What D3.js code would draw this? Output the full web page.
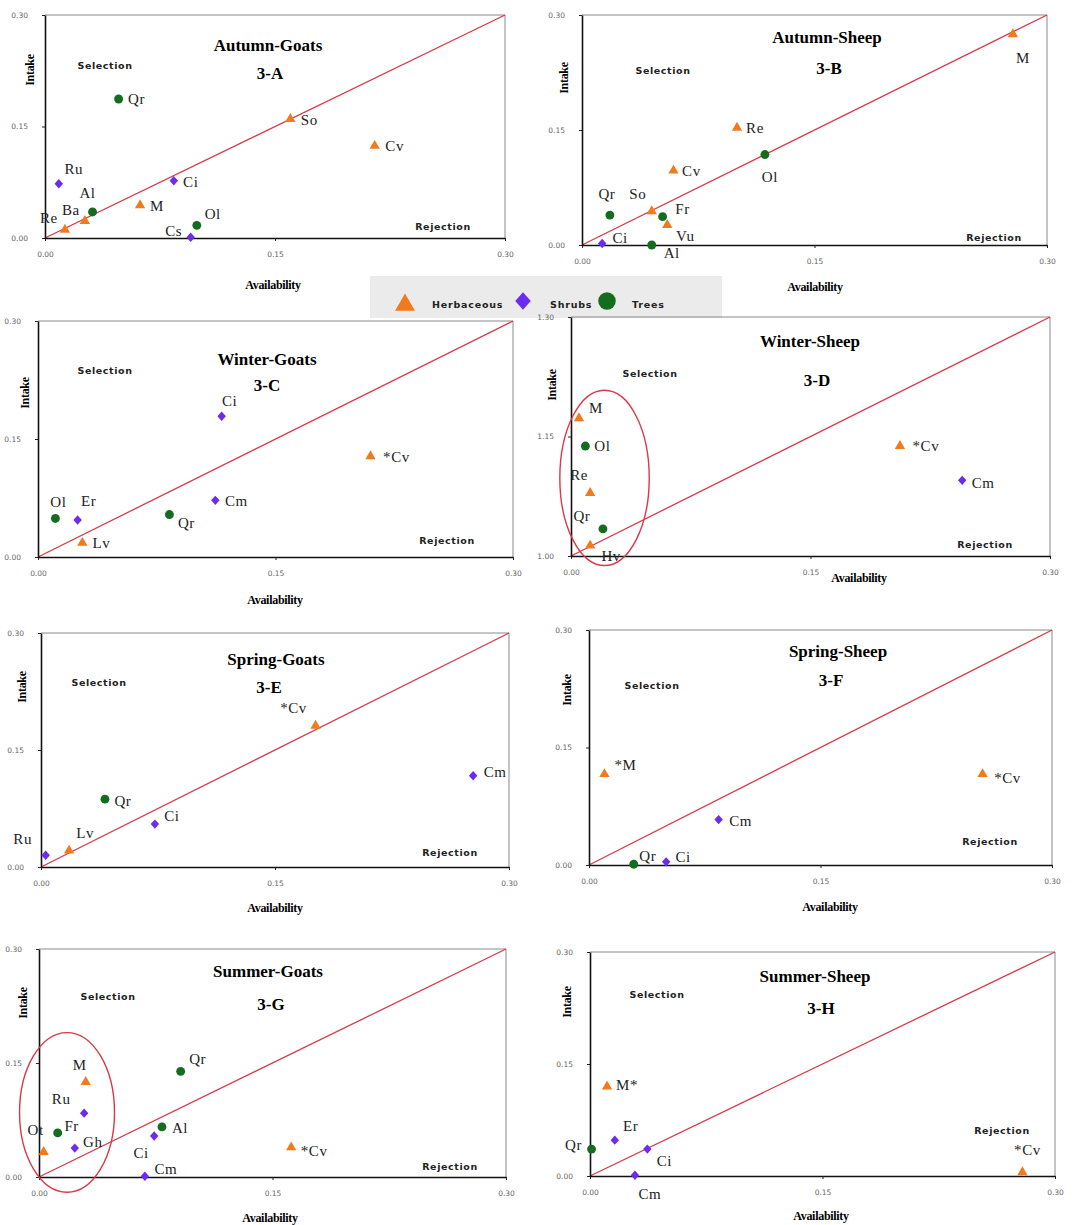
<!DOCTYPE html>
<html>
<head>
<meta charset="utf-8">
<script src="https://cdn.jsdelivr.net/npm/d3@7"></script>
<style>
  html, body { margin: 0; padding: 0; background: #fff; }
  svg { display: block; }
</style>
</head>
<body>
<svg id="fig" width="1083" height="1225"></svg>
<script>
// ---- Plant groups ----
const categories = ["Herbaceous", "Shrubs", "Trees"];

// ---- Panel titles ----
const panelTitles = ["Autumn-Goats", "Autumn-Sheep", "Winter-Goats", "Winter-Sheep",
                     "Spring-Goats", "Spring-Sheep", "Summer-Goats", "Summer-Sheep"];
const panelCodes = ["3-A", "3-B", "3-C", "3-D", "3-E", "3-F", "3-G", "3-H"];

// ---- Axis ticks ----
const tickValues = [0, 0.15, 0.30];
const tickValuesWinterSheep = [1.00, 1.15, 1.30];

// ---- Species: availability (a) vs intake (i) ----
const autumnGoats = [
  { sp: "Qr", g: "Trees", a: 0.048, i: 0.187 },
  { sp: "So", g: "Herbaceous", a: 0.160, i: 0.160 },
  { sp: "Cv", g: "Herbaceous", a: 0.215, i: 0.124 },
  { sp: "Ru", g: "Shrubs", a: 0.009, i: 0.073 },
  { sp: "Ci", g: "Shrubs", a: 0.084, i: 0.077 },
  { sp: "Al", g: "Trees", a: 0.031, i: 0.035 },
  { sp: "M", g: "Herbaceous", a: 0.062, i: 0.044 },
  { sp: "Ba", g: "Herbaceous", a: 0.026, i: 0.023 },
  { sp: "Re", g: "Herbaceous", a: 0.013, i: 0.011 },
  { sp: "Ol", g: "Trees", a: 0.099, i: 0.017 },
  { sp: "Cs", g: "Shrubs", a: 0.095, i: 0.001 }
];
const autumnSheep = [
  { sp: "M", g: "Herbaceous", a: 0.278, i: 0.275 },
  { sp: "Re", g: "Herbaceous", a: 0.100, i: 0.153 },
  { sp: "Ol", g: "Trees", a: 0.118, i: 0.118 },
  { sp: "Cv", g: "Herbaceous", a: 0.059, i: 0.097 },
  { sp: "So", g: "Herbaceous", a: 0.045, i: 0.044 },
  { sp: "Fr", g: "Trees", a: 0.052, i: 0.037 },
  { sp: "Vu", g: "Herbaceous", a: 0.055, i: 0.026 },
  { sp: "Qr", g: "Trees", a: 0.018, i: 0.039 },
  { sp: "Ci", g: "Shrubs", a: 0.013, i: 0.002 },
  { sp: "Al", g: "Trees", a: 0.045, i: 0.000 }
];
const winterGoats = [
  { sp: "Ci", g: "Shrubs", a: 0.116, i: 0.179 },
  { sp: "*Cv", g: "Herbaceous", a: 0.210, i: 0.128 },
  { sp: "Cm", g: "Shrubs", a: 0.112, i: 0.072 },
  { sp: "Qr", g: "Trees", a: 0.083, i: 0.054 },
  { sp: "Ol", g: "Trees", a: 0.011, i: 0.049 },
  { sp: "Er", g: "Shrubs", a: 0.025, i: 0.047 },
  { sp: "Lv", g: "Herbaceous", a: 0.028, i: 0.018 }
];
const winterSheep = [
  { sp: "M", g: "Herbaceous", a: 0.005, i: 1.173 },
  { sp: "Ol", g: "Trees", a: 0.009, i: 1.138 },
  { sp: "Re", g: "Herbaceous", a: 0.012, i: 1.079 },
  { sp: "Qr", g: "Trees", a: 0.020, i: 1.034 },
  { sp: "Hv", g: "Herbaceous", a: 0.012, i: 1.013 },
  { sp: "*Cv", g: "Herbaceous", a: 0.206, i: 1.138 },
  { sp: "Cm", g: "Shrubs", a: 0.245, i: 1.095 }
];
const springGoats = [
  { sp: "*Cv", g: "Herbaceous", a: 0.176, i: 0.181 },
  { sp: "Cm", g: "Shrubs", a: 0.277, i: 0.117 },
  { sp: "Qr", g: "Trees", a: 0.041, i: 0.087 },
  { sp: "Ci", g: "Shrubs", a: 0.073, i: 0.055 },
  { sp: "Lv", g: "Herbaceous", a: 0.018, i: 0.021 },
  { sp: "Ru", g: "Shrubs", a: 0.003, i: 0.015 }
];
const springSheep = [
  { sp: "*M", g: "Herbaceous", a: 0.010, i: 0.116 },
  { sp: "*Cv", g: "Herbaceous", a: 0.255, i: 0.116 },
  { sp: "Cm", g: "Shrubs", a: 0.084, i: 0.058 },
  { sp: "Qr", g: "Trees", a: 0.029, i: 0.001 },
  { sp: "Ci", g: "Shrubs", a: 0.050, i: 0.004 }
];
const summerGoats = [
  { sp: "M", g: "Herbaceous", a: 0.030, i: 0.125 },
  { sp: "Qr", g: "Trees", a: 0.091, i: 0.139 },
  { sp: "Ru", g: "Shrubs", a: 0.029, i: 0.084 },
  { sp: "Al", g: "Trees", a: 0.079, i: 0.066 },
  { sp: "Ci", g: "Shrubs", a: 0.074, i: 0.054 },
  { sp: "Fr", g: "Trees", a: 0.012, i: 0.058 },
  { sp: "Ot", g: "Herbaceous", a: 0.003, i: 0.033 },
  { sp: "Gh", g: "Shrubs", a: 0.023, i: 0.038 },
  { sp: "Cm", g: "Shrubs", a: 0.068, i: 0.001 },
  { sp: "*Cv", g: "Herbaceous", a: 0.162, i: 0.039 }
];
const summerSheep = [
  { sp: "M*", g: "Herbaceous", a: 0.011, i: 0.120 },
  { sp: "Er", g: "Shrubs", a: 0.016, i: 0.048 },
  { sp: "Qr", g: "Trees", a: 0.001, i: 0.036 },
  { sp: "Ci", g: "Shrubs", a: 0.037, i: 0.036 },
  { sp: "Cm", g: "Shrubs", a: 0.029, i: 0.001 },
  { sp: "*Cv", g: "Herbaceous", a: 0.279, i: 0.005 }
];

// Grouped species circled in two panels (centre and radii in data units)
const winterSheepGroup = { a: 0.021, i: 1.098, ra: 0.028, ri: 0.110 };
const summerGoatsGroup = { a: 0.018, i: 0.085, ra: 0.0305, ri: 0.105 };

// ---- Layout of each panel (pixels) ----
const layout = [
  { box: [45, 15, 505, 238], title: [268, 45], code: [270, 73], sel: [105, 66], rej: [443, 227], xt: [273, 285], yt: [30, 70],
    lab: { Qr: [18, 0], So: [19, 1], Cv: [20, 0], Ru: [15, -15], Ci: [17, 1], Al: [-5, -19], M: [17, 0], Ba: [-14, -11], Re: [-16, -12], Ol: [16, -12], Cs: [-17, -7] } },
  { box: [582, 15, 1047, 245], title: [827, 37], code: [829, 68], sel: [663, 71], rej: [994, 238], xt: [815, 287], yt: [564, 78],
    lab: { M: [10, 24], Re: [18, 0], Ol: [5, 22], Cv: [18, 0], So: [-14, -18], Fr: [20, -8], Vu: [18, 11], Qr: [-3, -21], Ci: [18, -6], Al: [20, 8] } },
  { box: [38, 321, 513, 557], title: [267, 359], code: [267, 385], sel: [105, 371], rej: [447, 541], xt: [275, 600], yt: [25, 393],
    lab: { Ci: [8, -15], "*Cv": [26, 0], Cm: [21, 0], Qr: [17, 8], Ol: [3, -17], Er: [11, -19], Lv: [19, 0] } },
  { box: [571, 317, 1050, 556], title: [810, 341], code: [817, 380], sel: [650, 374], rej: [985, 545], xt: [859, 578], yt: [552, 385],
    lab: { M: [17, -10], Ol: [17, 0], Re: [-11, -18], Qr: [-21, -13], Hv: [21, 10], "*Cv": [26, 0], Cm: [21, 2] } },
  { box: [41, 633, 509, 867], title: [276, 659], code: [269, 687], sel: [99, 683], rej: [450, 853], xt: [275, 908], yt: [22, 687],
    lab: { "*Cv": [-22, -18], Cm: [22, -4], Qr: [18, 2], Ci: [17, -8], Lv: [16, -18], Ru: [-23, -17] } },
  { box: [589, 630, 1052, 865], title: [838, 651], code: [831, 680], sel: [652, 686], rej: [990, 842], xt: [830, 907], yt: [567, 690],
    lab: { "*M": [21, -9], "*Cv": [25, 4], Cm: [22, 1], Qr: [14, -8], Ci: [17, -5] } },
  { box: [39, 949, 506, 1177], title: [268, 971], code: [271, 1004], sel: [108, 997], rej: [450, 1167], xt: [270, 1218], yt: [23, 1003],
    lab: { M: [-6, -17], Qr: [17, -13], Ru: [-23, -14], Al: [18, 1], Ci: [-13, 17], Fr: [14, -7], Ot: [-8, -22], Gh: [18, -6], Cm: [21, -7], "*Cv": [23, 3] } },
  { box: [590, 952, 1055, 1176], title: [815, 976], code: [821, 1008], sel: [657, 995], rej: [1002, 1131], xt: [821, 1216], yt: [567, 1002],
    lab: { "M*": [20, -2], Er: [16, -14], Qr: [-18, -4], Ci: [17, 12], Cm: [15, 18], "*Cv": [5, -23] } }
];

const panelData = [autumnGoats, autumnSheep, winterGoats, winterSheep,
                   springGoats, springSheep, summerGoats, summerSheep];
const panelGroups = [null, null, null, winterSheepGroup, null, null, summerGoatsGroup, null];

// ---- Styles ----
const color = d3.scaleOrdinal().domain(categories).range(["#f07a1c", "#6b2cf0", "#146c1e"]);
const squareDiamond = {
  draw(ctx, size) {
    const h = Math.sqrt(size / 2);
    const w = h * 0.9;
    ctx.moveTo(0, -h); ctx.lineTo(w, 0); ctx.lineTo(0, h); ctx.lineTo(-w, 0); ctx.closePath();
  }
};
const shape = d3.scaleOrdinal().domain(categories).range([d3.symbolTriangle, squareDiamond, d3.symbolCircle]);
const markerSize = d3.scaleOrdinal().domain(categories).range([46, 44, 62]);
const legendSize = d3.scaleOrdinal().domain(categories).range([170, 150, 240]);

const SERIF = "'Liberation Serif', 'Times New Roman', serif";
const SANS = "'DejaVu Sans', Verdana, sans-serif";
const LINE_RED = "#d63a48";

const svg = d3.select("#fig");

// ---- Legend (drawn first so panel ticks stay on top) ----
const lg = svg.append("g").attr("class", "legend");
lg.append("rect").attr("x", 370).attr("y", 276).attr("width", 352).attr("height", 42).attr("fill", "#ebebeb");
const legendItems = [
  { c: categories[0], mx: 405, tx: 432 },
  { c: categories[1], mx: 523, tx: 550 },
  { c: categories[2], mx: 607, tx: 632 }
];
legendItems.forEach(it => {
  lg.append("path")
    .attr("transform", `translate(${it.mx},${it.c === "Herbaceous" ? 305 : 301})`)
    .attr("d", d3.symbol(shape(it.c), legendSize(it.c))())
    .attr("fill", color(it.c));
  lg.append("text").attr("x", it.tx).attr("y", 305).attr("dy", "0.35em")
    .style("font-family", SANS).style("font-weight", "bold").style("font-size", "9.5px")
    .style("letter-spacing", "0.8px").attr("fill", "#222").text(it.c);
});

panelData.forEach((data, k) => {
  const L = layout[k];
  const [x0, y0, x1, y1] = L.box;
  const yTicks = k === 3 ? tickValuesWinterSheep : tickValues;
  const x = d3.scaleLinear().domain([0, 0.30]).range([x0, x1]);
  const y = d3.scaleLinear().domain([yTicks[0], yTicks[2]]).range([y1, y0]);
  const g = svg.append("g").attr("class", "panel");

  // frame on top and right
  g.append("path")
    .attr("d", `M${x0},${y0}H${x1}V${y1}`)
    .attr("fill", "none").attr("stroke", "#8a8a8a").attr("stroke-width", 1);

  // 1:1 line
  g.append("line")
    .attr("x1", x(0)).attr("y1", y(yTicks[0]))
    .attr("x2", x(0.30)).attr("y2", y(yTicks[2]))
    .attr("stroke", LINE_RED).attr("stroke-width", 1.3);

  // axes
  const fmt = d3.format(".2f");
  const xAxis = g.append("g").attr("transform", `translate(0,${y1})`)
    .call(d3.axisBottom(x).tickValues(tickValues).tickFormat(fmt).tickSize(3).tickPadding(11).tickSizeOuter(0));
  const yAxis = g.append("g").attr("transform", `translate(${x0},0)`)
    .call(d3.axisLeft(y).tickValues(yTicks).tickFormat(fmt).tickSize(3).tickPadding(14).tickSizeOuter(0));
  [xAxis, yAxis].forEach(ax => {
    ax.select(".domain").attr("stroke", "#111").attr("stroke-width", 1.6);
    ax.selectAll(".tick line").attr("stroke", "#222").attr("stroke-width", 1);
    ax.selectAll(".tick text").attr("fill", "#666").style("font-family", SANS).style("font-size", "7.5px");
  });

  // grouping ellipse
  const grp = panelGroups[k];
  if (grp) {
    g.append("ellipse")
      .attr("cx", x(grp.a)).attr("cy", y(grp.i))
      .attr("rx", x(grp.ra) - x(0)).attr("ry", y(yTicks[0]) - y(yTicks[0] + grp.ri))
      .attr("fill", "none").attr("stroke", LINE_RED).attr("stroke-width", 1.4);
  }

  // titles
  g.append("text").attr("x", L.title[0]).attr("y", L.title[1]).attr("dy", "0.35em")
    .attr("text-anchor", "middle").style("font-family", SERIF).style("font-weight", "bold")
    .style("font-size", "17px").text(panelTitles[k]);
  g.append("text").attr("x", L.code[0]).attr("y", L.code[1]).attr("dy", "0.35em")
    .attr("text-anchor", "middle").style("font-family", SERIF).style("font-weight", "bold")
    .style("font-size", "17px").text(panelCodes[k]);

  // region notes
  [["Selection", L.sel], ["Rejection", L.rej]].forEach(([t, p]) => {
    g.append("text").attr("x", p[0]).attr("y", p[1]).attr("dy", "0.35em")
      .attr("text-anchor", "middle").style("font-family", SANS).style("font-weight", "bold")
      .style("font-size", "9.5px").style("letter-spacing", "0.6px").attr("fill", "#222").text(t);
  });

  // axis titles
  g.append("text").attr("x", L.xt[0]).attr("y", L.xt[1]).attr("dy", "0.35em")
    .attr("text-anchor", "middle").style("font-family", SERIF).style("font-weight", "bold")
    .style("font-size", "12px").style("letter-spacing", "-0.3px").text("Availability");
  g.append("text").attr("transform", `translate(${L.yt[0]},${L.yt[1]}) rotate(-90)`).attr("dy", "0.35em")
    .attr("text-anchor", "middle").style("font-family", SERIF).style("font-weight", "bold")
    .style("font-size", "12px").style("letter-spacing", "-0.3px").text("Intake");

  // species markers
  g.selectAll("path.pt").data(data).join("path").attr("class", "pt")
    .attr("transform", d => `translate(${x(d.a)},${y(d.i)})`)
    .attr("d", d => d3.symbol(shape(d.g), markerSize(d.g))())
    .attr("fill", d => color(d.g));

  // species labels
  g.selectAll("text.lab").data(data).join("text").attr("class", "lab")
    .attr("x", d => x(d.a) + (L.lab[d.sp] || [14, 0])[0])
    .attr("y", d => y(d.i) + (L.lab[d.sp] || [14, 0])[1])
    .attr("dy", "0.35em").attr("text-anchor", "middle")
    .style("font-family", SERIF).style("font-size", "15px").style("letter-spacing", "0.6px")
    .attr("fill", "#222").text(d => d.sp);
});
</script>
</body>
</html>
